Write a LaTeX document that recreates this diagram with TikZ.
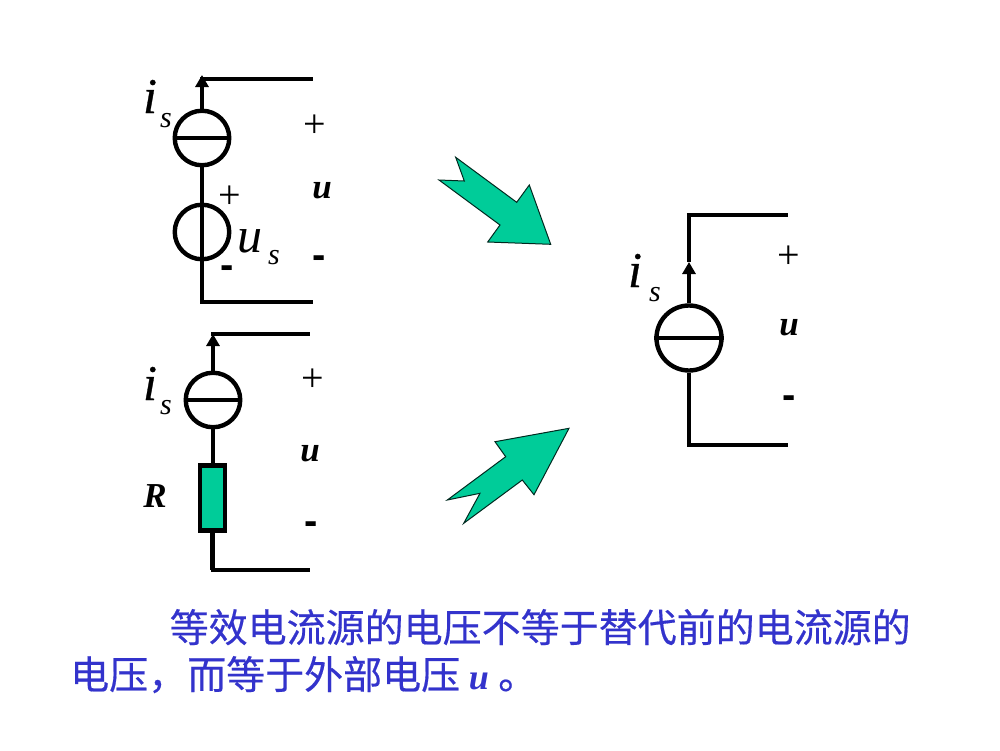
\documentclass[tikz,border=0pt]{standalone}
\usepackage{fontspec}
\setmainfont{Liberation Serif}
\newfontfamily\cjk[FakeBold=0.4]{Noto Sans CJK SC}
\newfontfamily\arial{Liberation Sans}
\newfontfamily\heavyital[FakeBold=0.6]{Liberation Serif Italic}
\usetikzlibrary{arrows.meta}
\definecolor{arrowgreen}{HTML}{00CC99}
\definecolor{textblue}{HTML}{3333CC}
\tikzset{
  x=1pt,y=-1pt,
  wire/.style={line width=4.4pt,line cap=butt,line join=miter},
  arrowwire/.style={wire,-{Triangle[length=12pt,width=13pt]},shorten >=0pt},
  source/.style={circle,draw,line width=4.4pt,inner sep=0pt,fill=white},
  smallsource/.style={source,minimum size=54.5pt},
  bigsource/.style={source,minimum size=65pt},
  bigarrow/.style={fill=arrowgreen,draw=black!80!arrowgreen,line width=1pt,line join=miter},
  resistor/.style={draw,line width=4.4pt,fill=arrowgreen,inner sep=0pt,minimum width=25pt,minimum height=65pt},
  lab/.style={inner sep=0pt,anchor=base},
  symi/.style={lab,font=\heavyital\fontsize{50}{50}\selectfont},
  symu/.style={lab,font=\fontsize{50}{50}\selectfont\itshape},
  subs/.style={lab,font=\fontsize{30}{30}\selectfont\itshape},
  boldu/.style={lab,font=\fontsize{35}{35}\selectfont\bfseries\itshape},
  plus/.style={lab,font=\fontsize{40}{40}\selectfont},
  minus/.style={lab,font=\arial\fontsize{40}{40}\selectfont\bfseries},
  cjkline/.style={inner sep=0pt,anchor=base west,text=textblue,font=\cjk\fontsize{39}{39}\selectfont},
}
\begin{document}
\begin{tikzpicture}
\useasboundingbox[fill=white] (0,0) rectangle (1000,750);
% first circuit
\coordinate (a1tip) at (202,75);
\coordinate (a1r) at (313,79);
\coordinate (a1bot) at (202,302);
\coordinate (a1br) at (313,302);
\node[smallsource] (a1i) at (202,138) {};
\node[smallsource,fill=none] (a1u) at (202,232) {};
\draw[wire] (a1i.west) -- (a1i.east);
\draw[arrowwire] (a1i.north) -- (a1tip);
\draw[wire] (200,79) -- (a1r);
\draw[wire] (a1i.south) -- (a1bot);
\draw[wire] (200,302) -- (a1br);
\node[symi] (t1i) at (150,113) {i};
\node[subs] (t1s) at (166,127) {s};
\node[plus] (t1p) at (315,137) {+};
\node[boldu] (t1b) at (322,198) {u};
\node[minus] (t1m) at (319,268) {-};
\node[plus] (t1p2) at (230,208) {+};
\node[minus] (t1m2) at (227,278) {-};
\node[symu] (t1u) at (250,252) {u};
\node[subs] (t1s2) at (274,264) {s};
% second circuit
\coordinate (a2tip) at (213,334);
\coordinate (a2r) at (310,334);
\coordinate (a2bot) at (213,570);
\coordinate (a2br) at (310,570);
\node[smallsource] (a2i) at (213,400) {};
\node[resistor] (a2R) at (212.5,498) {};
\draw[wire] (a2i.west) -- (a2i.east);
\draw[arrowwire] (a2i.north) -- (a2tip);
\draw[wire] (211,334) -- (a2r);
\draw[wire] (a2i.south) -- (a2i.south |- a2R.north);
\draw[wire] (a2R.south) -- (a2R.south |- a2bot);
\draw[wire] (210.5,570) -- (a2br);
\node[symi] (t2i) at (150,400) {i};
\node[subs] (t2s) at (166,414) {s};
\node[plus] (t2p) at (313,391) {+};
\node[boldu] (t2b) at (310,461) {u};
\node[minus] (t2m) at (311,534) {-};
\node[lab,font=\fontsize{35}{35}\selectfont\bfseries\itshape] (t2R) at (155,507) {R};
% third circuit
\coordinate (a3tip) at (689,262);
\coordinate (a3top) at (689,215);
\coordinate (a3r) at (788,215);
\coordinate (a3bot) at (689,445);
\coordinate (a3br) at (788,445);
\node[bigsource] (a3i) at (689,338) {};
\draw[wire] (a3i.west) -- (a3i.east);
\draw[arrowwire] (a3i.north) -- (a3tip);
\draw[wire] (a3tip) -- (a3top);
\draw[wire] (686.8,215) -- (a3r);
\draw[wire] (a3i.south) -- (a3bot);
\draw[wire] (686.8,445) -- (a3br);
\node[symi] (t3i) at (635,287) {i};
\node[subs] (t3s) at (655,301) {s};
\node[plus] (t3p) at (789,268) {+};
\node[boldu] (t3b) at (789,335) {u};
\node[minus] (t3m) at (789,408) {-};
% arrows
\draw[bigarrow] (455.7,157.3) -- (516.7,202.3) -- (529.3,185) -- (550.7,244.3) -- (487.7,242) -- (500,225) -- (439,180) -- (464.3,181) -- cycle;
\draw[bigarrow] (569,428.3) -- (495,441.7) -- (505.7,456.7) -- (447.3,500) -- (480,493.3) -- (463.7,523.3) -- (522.3,480) -- (534,494.7) -- cycle;
% text
\node[cjkline] (l1) at (169.5,642) {等效电流源的电压不等于替代前的电流源的};
\node[cjkline] (l2) at (70,689) {电压，而等于外部电压};
\node[lab,text=textblue,font=\fontsize{36}{36}\selectfont\bfseries\itshape] (l2u) at (479,689) {u};
\node[cjkline] (l2e) at (498,689) {。};
\end{tikzpicture}
\end{document}
